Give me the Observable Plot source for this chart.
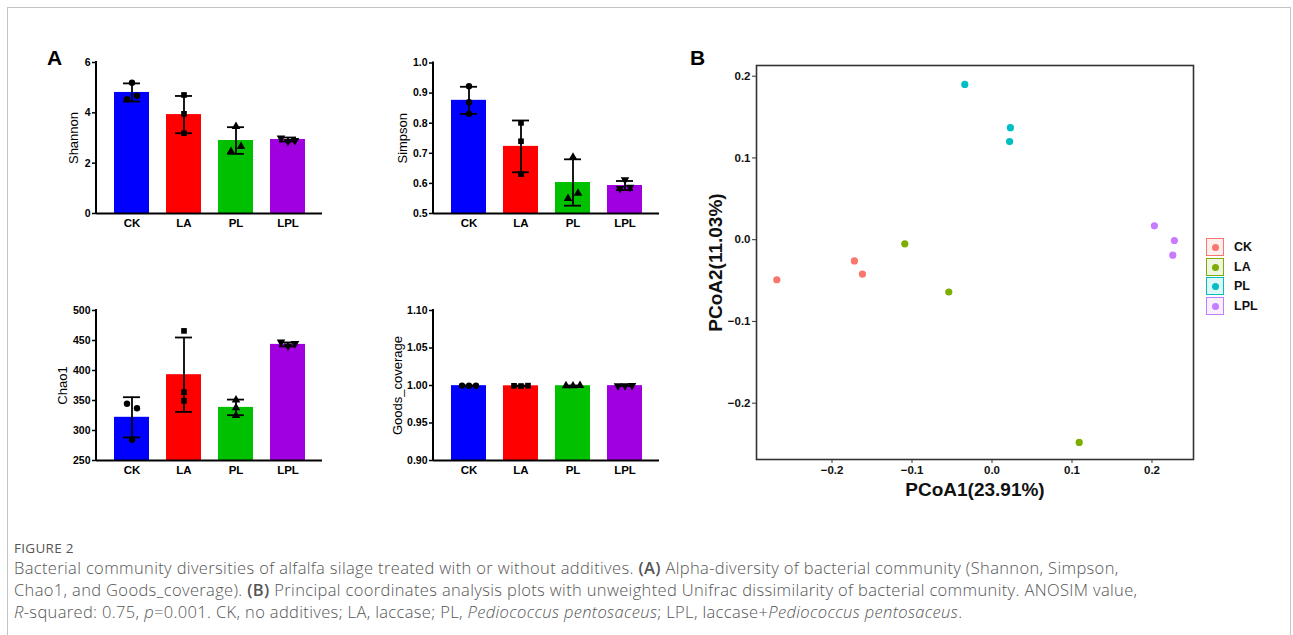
<!DOCTYPE html>
<html><head><meta charset="utf-8">
<script src="https://cdn.jsdelivr.net/npm/d3@7"></script>
<script src="https://cdn.jsdelivr.net/npm/@observablehq/plot@0.6"></script>
<style>
html,body{margin:0;padding:0;background:#fff;}
body{width:1293px;height:635px;overflow:hidden;position:relative;font-family:"Liberation Sans",Arial,sans-serif;}
#border{position:absolute;left:7px;top:7px;width:1284px;height:700px;border:1px solid #c4c4c4;box-sizing:border-box;}
.panel{position:absolute;}
.plab{position:absolute;font-weight:bold;font-size:21px;color:#000;line-height:1;}
#legend{position:absolute;left:1206px;top:238px;}
.lrow{position:relative;height:19.6px;}
.lkey{position:absolute;left:0;top:0;width:18px;height:18px;box-sizing:border-box;border:1.5px solid;}
.ldot{position:absolute;left:5px;top:5px;width:7px;height:7px;border-radius:50%;}
.ltxt{position:absolute;left:28px;top:1px;font-weight:bold;font-size:12.5px;color:#111;line-height:16px;}
#fig{position:absolute;left:14px;top:541px;font-family:"Open Sans",sans-serif;font-size:13.5px;line-height:14px;color:#555;letter-spacing:0.3px;}
#cap{position:absolute;left:14px;top:557px;font-family:"Open Sans",sans-serif;font-weight:300;font-size:16.5px;letter-spacing:0.35px;line-height:21.8px;color:#555;white-space:nowrap;}
#cap b{font-weight:600;}
</style></head><body>
<div id="border"></div>
<div class="plab" style="left:47px;top:47px">A</div>
<div class="plab" style="left:690px;top:47px">B</div>
<div id="p1" class="panel"></div>
<div id="p2" class="panel"></div>
<div id="p3" class="panel"></div>
<div id="p4" class="panel"></div>
<div id="p5" class="panel"></div>
<div id="legend"></div>
<div id="fig">FIGURE 2</div>
<div id="cap">Bacterial community diversities of alfalfa silage treated with or without additives. <b>(A)</b> Alpha-diversity of bacterial community (Shannon, Simpson,<br>Chao1, and Goods_coverage). <b>(B)</b> Principal coordinates analysis plots with unweighted Unifrac dissimilarity of bacterial community. ANOSIM value,<br><i>R</i>-squared: 0.75, <i>p</i>=0.001. CK, no additives; LA, laccase; PL, <i>Pediococcus pentosaceus</i>; LPL, laccase+<i>Pediococcus pentosaceus</i>.</div>
<script>
// ---------- data ----------
const groups = ["CK","LA","PL","LPL"];
const barColors = ["#0000ff","#ff0000","#00c000","#a000e0"];

const shannonTicks = [0,2,4,6];
const shannonMean = [4.81,3.93,2.90,2.94];
const shannonSD = [0.36,0.74,0.53,0.08];
const shannonPts = [[5.20,4.54,4.68],[4.71,3.96,3.19],[3.46,2.46,2.66],[3.00,2.86,2.90]];

const simpsonTicks = [0.5,0.6,0.7,0.8,0.9,1.0];
const simpsonMean = [0.876,0.723,0.603,0.593];
const simpsonSD = [0.045,0.086,0.077,0.015];
const simpsonPts = [[0.923,0.870,0.831],[0.801,0.740,0.631],[0.687,0.550,0.567],[0.612,0.583,0.587]];

const chaoTicks = [250,300,350,400,450,500];
const chaoMean = [322,393,338.5,443.5];
const chaoSD = [33.5,62,13,3.3];
const chaoPts = [[344.5,337,284.5],[466,364,349.5],[351,338,325],[447.5,441,445]];

const goodsTicks = [0.90,0.95,1.00,1.05,1.10];
const goodsMean = [0.9998,0.9996,0.9997,0.9998];
const goodsSD = [0.0002,0.0003,0.0003,0.0002];
const goodsPts = [[0.9999,0.9997,0.9998],[0.9996,0.9993,0.9998],[0.9997,0.9995,0.9999],[0.9998,0.9996,0.9999]];

const pcoaGroup = ["CK","CK","CK","LA","LA","LA","PL","PL","PL","LPL","LPL","LPL"];
const pcoa1 = [-0.269,-0.172,-0.162,-0.109,-0.054,0.109,-0.034,0.023,0.022,0.203,0.228,0.226];
const pcoa2 = [-0.049,-0.026,-0.042,-0.005,-0.064,-0.248,0.190,0.137,0.120,0.017,-0.001,-0.019];
const pcoaColors = ["#F8766D","#7CAE00","#00BFC4","#C77CFF"];
const pcoaTicks = [-0.2,-0.1,0.0,0.1,0.2];
const pcoaXDomain = [-0.2944,0.2519];
const pcoaYDomain = [-0.2689,0.2131];

// ---------- helpers ----------
const triDown = {draw(ctx, size){
  const s3 = Math.sqrt(3);
  const y = -Math.sqrt(size/(s3*3));
  ctx.moveTo(0,-y*2); ctx.lineTo(-s3*y, y); ctx.lineTo(s3*y, y); ctx.closePath();
}};
const symbols = ["circle","square","triangle",triDown];
const FONT = "'Liberation Sans', Arial, sans-serif";

function yAxisLine(index, scales, values, dim){
  const g = d3.create("svg:g");
  g.append("line")
    .attr("x1", dim.marginLeft).attr("x2", dim.marginLeft)
    .attr("y1", dim.marginTop - 1).attr("y2", dim.height - dim.marginBottom + 1)
    .attr("stroke","#000").attr("stroke-width",2);
  return g.node();
}

function barPanel(cfg){
  const {el, left, top, width, height, ml, mr, mt, mb, domain, ticks, fmt, means, sds, pts, title, titleDx} = cfg;
  const rows = groups.map((g,i)=>({g, mean:means[i], lo:means[i]-sds[i], hi:means[i]+sds[i]}));
  const ppu = (height-mt-mb)/(domain[1]-domain[0]);
  const dotMarks = [];
  groups.forEach((g,i)=>{
    const vals = pts[i];
    const order = vals.map((_,j)=>j).sort((a,b)=>vals[a]-vals[b]);
    const clusters = [];
    order.forEach(j=>{
      const c = clusters[clusters.length-1];
      if (c && (vals[j]-vals[c[c.length-1]])*ppu < 7.5) c.push(j); else clusters.push([j]);
    });
    clusters.forEach(c=>{
      c.slice().sort((a,b)=>a-b).forEach((j,k)=>{
        const dx = (k-(c.length-1)/2)*(c.length>2?7:10);
        dotMarks.push(Plot.dot([{g, v:vals[j]}], {x:"g", y:"v", dx, r:3.2, symbol:symbols[i], fill:"#000", stroke:"none"}));
      });
    });
  });
  const chart = Plot.plot({
    width, height, marginLeft:ml, marginRight:mr, marginTop:mt, marginBottom:mb,
    style:{background:"transparent", fontFamily:FONT, color:"#000", overflow:"visible"},
    x:{type:"band", domain:groups, padding:0.33, axis:null},
    y:{domain, axis:null},
    color:{domain:groups, range:barColors},
    marks:[
      Plot.barY(rows, {x:"g", y1:domain[0], y2:"mean", fill:"g"}),
      Plot.ruleX(rows, {x:"g", y1:"lo", y2:"hi", stroke:"#000", strokeWidth:1.8}),
      Plot.tickY(rows, {x:"g", y:"hi", insetLeft:9, insetRight:9, stroke:"#000", strokeWidth:1.8}),
      Plot.tickY(rows, {x:"g", y:"lo", insetLeft:9, insetRight:9, stroke:"#000", strokeWidth:1.8}),
      ...dotMarks,
      Plot.ruleY([domain[0]], {stroke:"#000", strokeWidth:2}),
      yAxisLine,
      Plot.axisY({ticks, tickFormat:fmt, tickSize:4, tickPadding:2, fontSize:10.5, fontWeight:"bold", strokeWidth:1.5, label:null}),
      Plot.axisX({tickSize:0, tickPadding:5, fontSize:11.5, fontWeight:"bold", label:null}),
      Plot.text([title], {frameAnchor:"left", textAnchor:"middle", lineAnchor:"middle", rotate:-90, dx:titleDx, fontSize:13, fill:"#000"})
    ]
  });
  const host = document.getElementById(el);
  host.style.left = left+"px"; host.style.top = top+"px";
  host.appendChild(chart);
}

barPanel({el:"p1", left:30, top:50, width:296, height:188, ml:66, mr:4, mt:12, mb:25,
  domain:[0,6], ticks:shannonTicks, fmt:d3.format("d"), means:shannonMean, sds:shannonSD, pts:shannonPts, title:"Shannon", titleDx:-23});
barPanel({el:"p2", left:370, top:50, width:293, height:188, ml:63, mr:4, mt:12.5, mb:25,
  domain:[0.5,1.0], ticks:simpsonTicks, fmt:d3.format(".1f"), means:simpsonMean, sds:simpsonSD, pts:simpsonPts, title:"Simpson", titleDx:-31});
barPanel({el:"p3", left:30, top:298, width:296, height:187, ml:66, mr:4, mt:12, mb:25,
  domain:[250,500], ticks:chaoTicks, fmt:d3.format("d"), means:chaoMean, sds:chaoSD, pts:chaoPts, title:"Chao1", titleDx:-34});
barPanel({el:"p4", left:370, top:298, width:293, height:187, ml:63, mr:4, mt:12, mb:25,
  domain:[0.90,1.10], ticks:goodsTicks, fmt:d3.format(".2f"), means:goodsMean, sds:goodsSD, pts:goodsPts, title:"Goods_coverage", titleDx:-36});

// ---------- PCoA ----------
const pcoaRows = pcoaGroup.map((g,i)=>({g, x:pcoa1[i], y:pcoa2[i]}));
const pcoa = Plot.plot({
  width:523, height:474, marginLeft:76, marginTop:25, marginRight:10, marginBottom:55,
  style:{background:"transparent", fontFamily:FONT, color:"#111", overflow:"visible"},
  x:{domain:pcoaXDomain, axis:null},
  y:{domain:pcoaYDomain, axis:null},
  color:{domain:groups, range:pcoaColors},
  marks:[
    Plot.dot(pcoaRows, {x:"x", y:"y", fill:"g", r:3.6, stroke:"none"}),
    Plot.frame({stroke:"#333", strokeWidth:1.6}),
    Plot.axisX({ticks:pcoaTicks, tickFormat:d3.format(".1f"), tickSize:4, tickPadding:2, fontSize:11.5, fontWeight:"bold", stroke:"#333", label:null}),
    Plot.axisY({ticks:pcoaTicks, tickFormat:d3.format(".1f"), tickSize:4, tickPadding:2, fontSize:11.5, fontWeight:"bold", stroke:"#333", label:null}),
    Plot.text(["PCoA1(23.91%)"], {frameAnchor:"bottom", textAnchor:"middle", lineAnchor:"middle", dy:30, fontSize:19, fontWeight:"bold", fill:"#111"}),
    Plot.text(["PCoA2(11.03%)"], {frameAnchor:"left", textAnchor:"middle", lineAnchor:"middle", dx:-41, rotate:-90, fontSize:19, fontWeight:"bold", fill:"#111"})
  ]
});
const p5 = document.getElementById("p5");
p5.style.left = "680px"; p5.style.top = "40px";
p5.appendChild(pcoa);

// legend
const leg = document.getElementById("legend");
groups.forEach((g,i)=>{
  const c = pcoaColors[i];
  const row = document.createElement("div"); row.className = "lrow";
  const key = document.createElement("div"); key.className = "lkey";
  key.style.borderColor = c; key.style.background = d3.color(c).copy({opacity:0.12}).formatRgb();
  const dot = document.createElement("div"); dot.className = "ldot"; dot.style.background = c;
  key.appendChild(dot);
  const t = document.createElement("div"); t.className = "ltxt"; t.textContent = g;
  row.appendChild(key); row.appendChild(t); leg.appendChild(row);
});
</script>
</body></html>
